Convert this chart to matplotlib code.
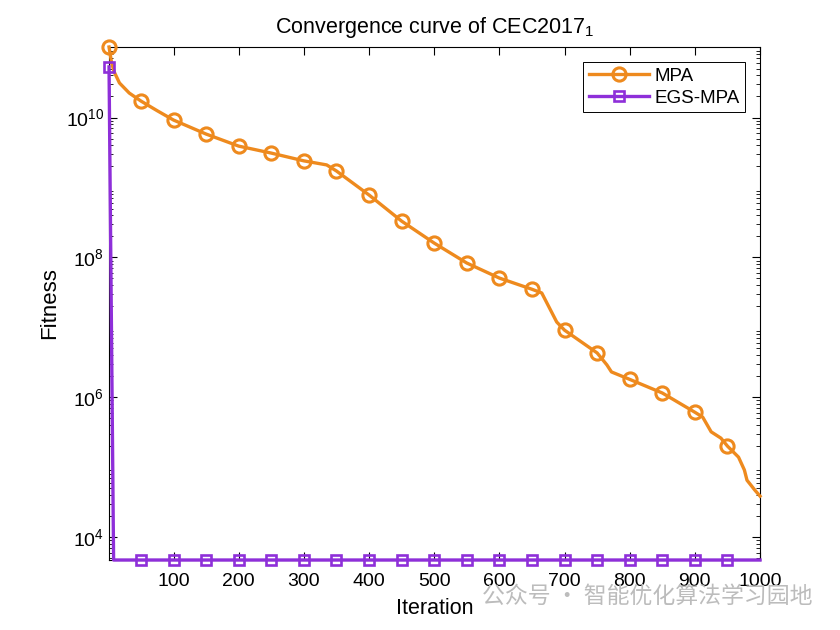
import numpy as np
import matplotlib
matplotlib.use('Agg')
import matplotlib.pyplot as plt
from matplotlib.ticker import LogLocator, NullFormatter, FixedLocator

plt.rcParams['font.family'] = ['Liberation Sans', 'DejaVu Sans']
plt.rcParams['mathtext.fontset'] = 'custom'
plt.rcParams['mathtext.rm'] = 'Liberation Sans'
plt.rcParams['mathtext.it'] = 'Liberation Sans:italic'

# Courbe MPA
mpa_iter = [1, 5, 9, 17, 32, 50, 75, 100, 150, 200, 250, 300, 335, 350, 400, 450, 500,
            550, 600, 650, 665, 688, 700, 750, 765, 772, 800, 850, 900, 912,
            925, 940, 950, 967, 976, 980, 992, 1000]
mpa_val = [1.02e11, 6.0e10, 4.48e10, 3.12e10, 2.24e10, 1.72e10, 1.25e10, 9.2e9, 5.8e9, 3.9e9,
           3.1e9, 2.4e9, 2.1e9, 1.72e9, 7.8e8, 3.3e8, 1.6e8, 8.3e7, 5.06e7,
           3.5e7, 3.1e7, 1.19e7, 9.1e6, 4.3e6, 2.9e6, 2.3e6, 1.8e6, 1.15e6,
           6.1e5, 5.2e5, 3.2e5, 2.6e5, 2.0e5, 1.39e5, 9.1e4, 6.5e4, 4.7e4, 3.85e4]

# Courbe EGS-MPA
egs_iter = [1, 8, 50, 100, 150, 200, 250, 300, 350, 400, 450, 500, 550, 600,
            650, 700, 750, 800, 850, 900, 950, 1000]
egs_val = [5.3e10] + [4.7e3] * 21

marker_iter = [1] + list(range(50, 1000, 50))
x_ticks = [100, 200, 300, 400, 500, 600, 700, 800, 900, 1000]

orange = '#EE8A1E'
purple = '#8E2FD9'

fig = plt.figure(figsize=(8.4, 6.3), dpi=100)
ax = fig.add_axes([0.1298, 0.1111, 0.7750, 0.8143])

mpa_marks = [i for i, it in enumerate(mpa_iter) if it in marker_iter]
egs_marks = [i for i, it in enumerate(egs_iter) if it in marker_iter]

ax.plot(mpa_iter, mpa_val, color=orange, linewidth=2.4, marker='o', markersize=9.5,
        markerfacecolor='none', markeredgewidth=2.2, markevery=mpa_marks, label='MPA',
        clip_on=False, zorder=3)
ax.plot(egs_iter, egs_val, color=purple, linewidth=2.4, marker='s', markersize=6.5,
        markerfacecolor='none', markeredgewidth=1.9, markevery=egs_marks, label='EGS-MPA',
        clip_on=False, zorder=3)

ax.set_yscale('log')
ax.set_xlim(1, 1000)
ax.set_ylim(min(egs_val), max(mpa_val))
ax.xaxis.set_major_locator(FixedLocator(x_ticks))
ax.yaxis.set_major_locator(FixedLocator([1e4, 1e6, 1e8, 1e10]))
ax.yaxis.set_minor_locator(LogLocator(base=10, subs=np.arange(2, 10)))
ax.yaxis.set_minor_formatter(NullFormatter())

ax.tick_params(which='both', direction='in', top=True, right=True, labelsize=14)
ax.tick_params(which='major', length=6, width=0.8)
ax.tick_params(which='minor', length=3, width=0.6)
ax.tick_params(axis='x', pad=9)
for s in ax.spines.values():
    s.set_linewidth(0.8)

ax.set_title('Convergence curve of CEC2017$_{1}$', fontsize=15.5, pad=10)
ax.set_xlabel('Iteration', fontsize=15.5, labelpad=6)
ax.set_ylabel('Fitness', fontsize=16, labelpad=4)

leg = ax.legend(loc='upper right', fontsize=13.5, fancybox=False, framealpha=1,
                edgecolor='black', borderaxespad=0.8, handlelength=3.2,
                borderpad=0.3, labelspacing=0.25, handletextpad=0.3)
leg.get_frame().set_linewidth(0.7)

# Filigrane
fig.text(0.574, 0.054, '公众号 · 智能优化算法学习园地', fontsize=16.5, color='#bcbcbc',
         family=['Noto Sans CJK SC', 'DejaVu Sans'], va='center', ha='left')

fig.savefig('out.png', dpi=100, facecolor='white')
